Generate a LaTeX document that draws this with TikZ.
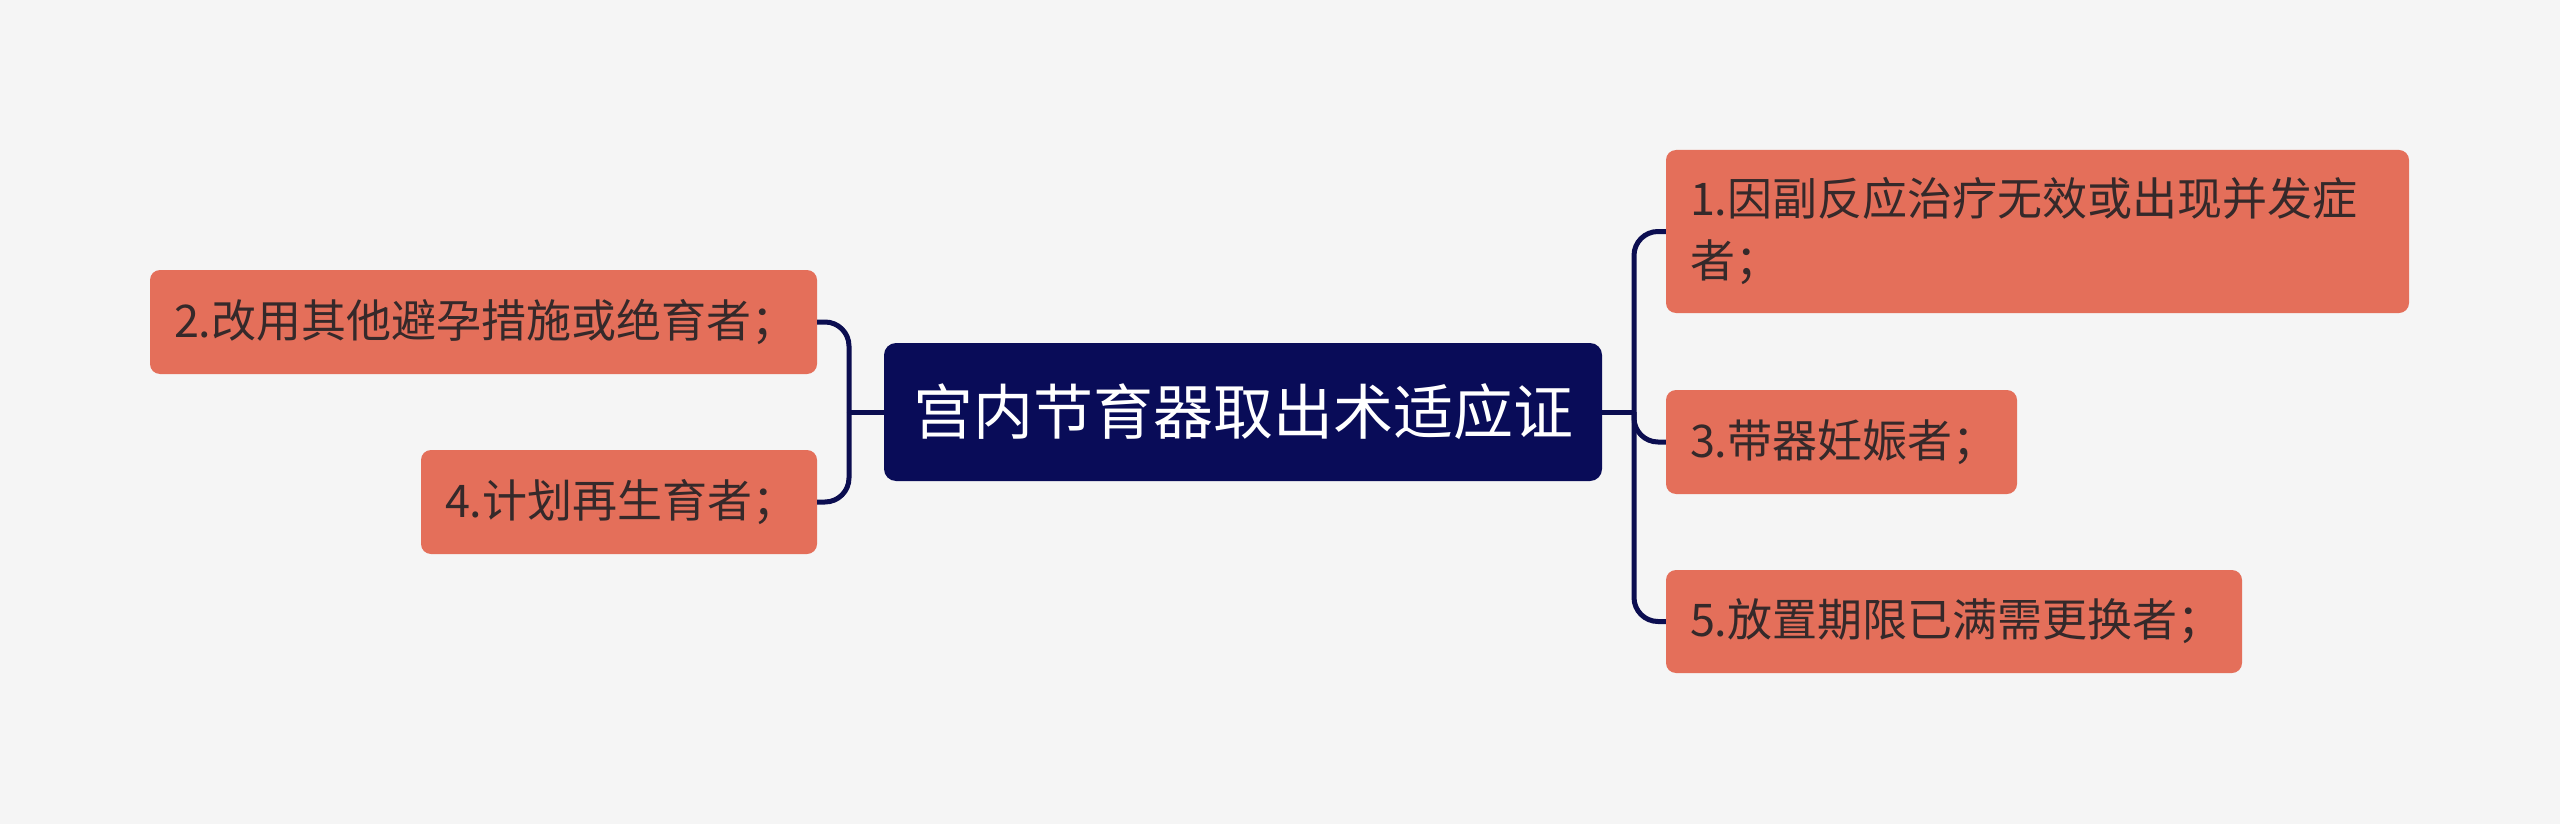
\documentclass[tikz,border=0pt]{standalone}
\usepackage{fontspec}
\setmainfont{Noto Sans CJK SC}
\definecolor{bgc}{HTML}{F5F5F5}
\definecolor{leafc}{HTML}{E46F5A}
\definecolor{rootc}{HTML}{090C58}
\definecolor{linec}{HTML}{0B0D50}
\definecolor{txtc}{HTML}{35292A}
\tikzset{
  leaf/.style={rectangle, rounded corners=10pt, fill=leafc, text=txtc, inner xsep=24pt, inner ysep=0pt, align=left, font=\fontsize{45}{62}\selectfont, minimum height=104pt},
  rootbox/.style={rectangle, rounded corners=12pt, fill=rootc, text=white, inner sep=0pt, align=center, font=\fontsize{60}{72}\selectfont, minimum width=718pt, minimum height=138pt},
  conn/.style={draw=linec, line width=5pt, rounded corners=24pt},
}
\begin{document}
\begin{tikzpicture}[x=1pt,y=-1pt]
\fill[bgc] (0,0) rectangle (2560,824);
\useasboundingbox (0,0) rectangle (2560,824);
\node[rootbox] (root) at (1243,412) {宫内节育器取出术适应证};
\node[leaf, text width=695pt, minimum height=163pt] (n1) at (2037.5,231.5) {1.因副反应治疗无效或出现并发症\\者；};
\node[leaf, text width=303pt] (n3) at (1841.5,442) {3.带器妊娠者；};
\node[leaf, text width=528pt, minimum height=103pt] (n5) at (1954,621.5) {5.放置期限已满需更换者；};
\node[leaf, text width=619pt] (n2) at (483.5,322) {2.改用其他避孕措施或绝育者；};
\node[leaf, text width=348pt] (n4) at (619,502) {4.计划再生育者；};
\coordinate (jr) at (1634,412);
\coordinate (jl) at (849,412);
\draw[conn] (root.east) -- (jr);
\draw[conn] (jr) |- (n1.west);
\draw[conn] (jr) |- (n3.west);
\draw[conn] (jr) |- (n5.west);
\draw[conn] (root.west) -- (jl);
\draw[conn] (jl) |- (n2.east);
\draw[conn] (jl) |- (n4.east);
\end{tikzpicture}
\end{document}
